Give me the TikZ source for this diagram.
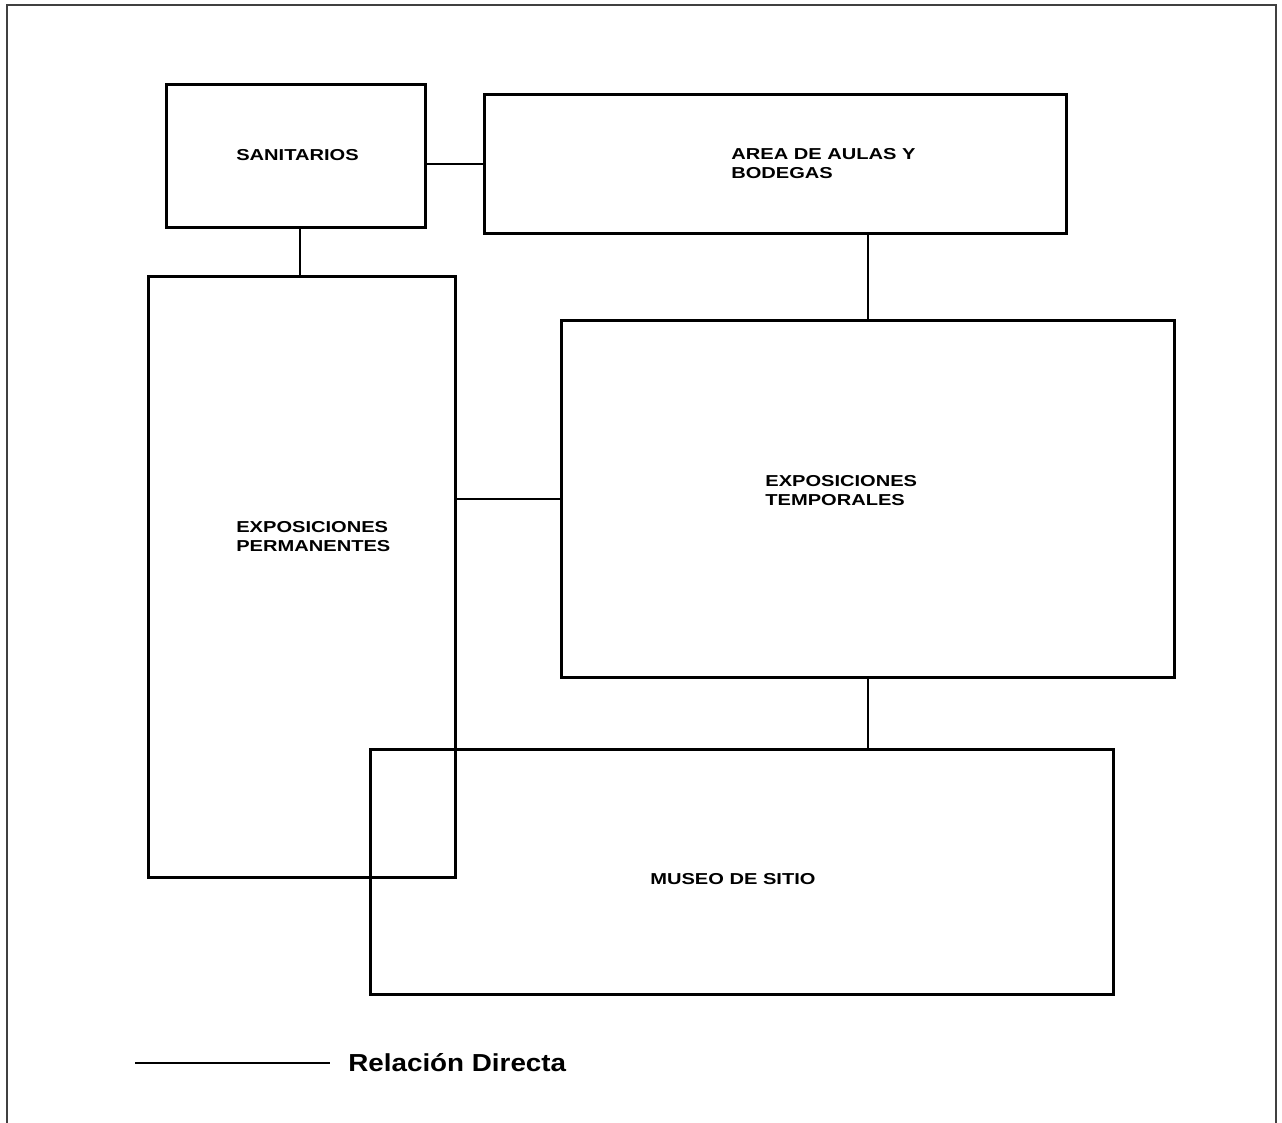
\documentclass[tikz,border=0pt]{standalone}
\usepackage{fontspec}
\setmainfont{Liberation Sans}
\newfontfamily\zonefont[FakeStretch=1.27]{Liberation Sans}
\newfontfamily\legendfont[FakeStretch=1.13]{Liberation Sans}
\tikzset{
  zone/.style={draw, line width=1.7pt, inner sep=0pt},
  zonetext/.style={anchor=west, inner sep=0pt, align=left, font=\zonefont\fontsize{9}{10.8}\selectfont\bfseries},
  relation/.style={line width=0.85pt}
}
\begin{document}
\begin{tikzpicture}[x=0.02cm, y=-0.02cm]
    \useasboundingbox (0,0) rectangle (1282,1123);

    % Sheet frame
    \draw[black!75, line width=1.4pt] (7,1123) -- (7,5) -- (1276,5) -- (1276,1123);

    % Zones
    \node[zone, minimum width=5.2cm, minimum height=2.88cm] (san) at (296,156) {};
    \node[zone, minimum width=11.66cm, minimum height=2.8cm] (area) at (775.5,164) {};
    \node[zone, minimum width=6.16cm, minimum height=12.04cm] (perm) at (302,577) {};
    \node[zone, minimum width=12.28cm, minimum height=7.16cm] (temp) at (868,499) {};
    \node[zone, minimum width=14.88cm, minimum height=4.92cm] (museo) at (742,872) {};

    % Labels
    \node[zonetext] (santext) at (236,155) {SANITARIOS};
    \node[zonetext] (areatext) at (731,164) {AREA DE AULAS Y\\BODEGAS};
    \node[zonetext] (permtext) at (236,537) {EXPOSICIONES\\PERMANENTES};
    \node[zonetext] (temptext) at (765,491) {EXPOSICIONES\\TEMPORALES};
    \node[zonetext] (museotext) at (650,879) {MUSEO DE SITIO};

    % Relations
    \draw[relation] (san.east |- area.west) -- (area.west);
    \draw[relation] (san.south -| 300,0) -- (perm.north -| 300,0);
    \draw[relation] (temp.north) -- (temp.north |- area.south);
    \draw[relation] (temp.west) -- (temp.west -| perm.east);
    \draw[relation] (temp.south) -- (temp.south |- museo.north);

    % Legend
    \coordinate (legA) at (135,1063);
    \coordinate (legB) at (330,1063);
    \draw[relation] (legA) -- (legB);
    \node[anchor=west, inner sep=0pt, font=\legendfont\fontsize{14}{16}\selectfont\bfseries] (legtext) at (348,1063) {Relación Directa};
\end{tikzpicture}
\end{document}
